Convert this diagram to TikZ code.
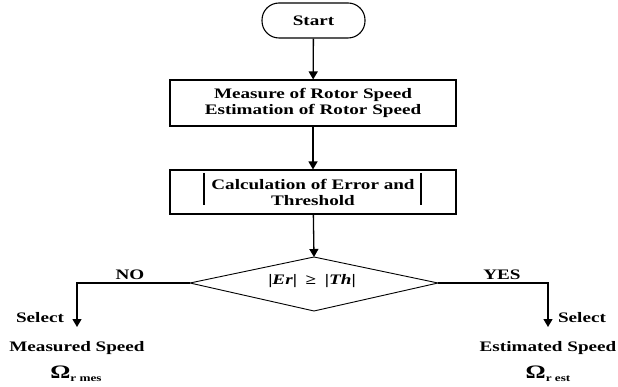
\documentclass[tikz,border=0pt]{standalone}
\usepackage{fontspec}
\setmainfont{Liberation Serif}[FakeStretch=1.32]
\usetikzlibrary{arrows.meta}
\tikzset{
  every node/.style={font=\bfseries\fontsize{14.5}{16}\selectfont},
  flowbox/.style={draw,line width=1.1pt,inner sep=0pt,align=center},
  termbox/.style={draw,line width=1.1pt,inner sep=0pt,rounded corners=17pt},
  decline/.style={line width=0.9pt,line join=miter},
  flow/.style={line width=1.3pt,-{Triangle[length=8pt,width=9pt]}},
  lbl/.style={inner sep=0pt}
}
\begin{document}
\begin{tikzpicture}[x=1pt,y=-1pt]
\useasboundingbox (0,0) rectangle (618,387);
\node[termbox,minimum width=103pt,minimum height=35pt] (start) at (313.5,20.5) {Start};
\node[flowbox,minimum width=286pt,minimum height=46pt] (b1) at (313,103) {Measure of Rotor Speed\\Estimation of Rotor Speed};
\node[flowbox,minimum width=286pt,minimum height=44pt] (b2) at (313,192) {Calculation of Error and\\Threshold};
\coordinate (l1) at (204,173); \coordinate (l2) at (204,205);
\coordinate (r1) at (421,173); \coordinate (r2) at (421,205);
\draw[line width=1.1pt] (l1) -- (l2) (r1) -- (r2);
\coordinate (dt) at (314,257);
\coordinate (dl) at (190,283);
\coordinate (dr) at (438,283);
\coordinate (db) at (314,311);
\draw[decline] (dt) -- (dr) -- (db) -- (dl) -- cycle;
\node[lbl] (dec) at (312,281) {|\textit{Er}|\hspace{0.6em}≥\hspace{0.6em}|\textit{Th}|};
\coordinate (mes) at (77,327);
\coordinate (est) at (548,327);
\draw[flow] (start) -- (b1);
\draw[flow] (b1) -- (b2);
\draw[flow] (b2) -- (dt);
\draw[flow] (dl) -| (mes);
\draw[flow] (dr) -| (est);
\node[lbl] (no) at (130,275) {NO};
\node[lbl] (yes) at (502,275) {YES};
\node[lbl] (sel1) at (40,318) {Select};
\node[lbl] (sel2) at (582,318) {Select};
\node[lbl] (ms) at (77,348) {Measured Speed};
\node[lbl] (es) at (548,348) {Estimated Speed};
\node[lbl] (om1) at (76,374) {{\fontsize{19}{19}\selectfont Ω}\raisebox{-0.4ex}{\fontsize{10}{10}\selectfont r mes}};
\node[lbl] (om2) at (548,374) {{\fontsize{19}{19}\selectfont Ω}\raisebox{-0.4ex}{\fontsize{10}{10}\selectfont r est}};
\end{tikzpicture}
\end{document}
